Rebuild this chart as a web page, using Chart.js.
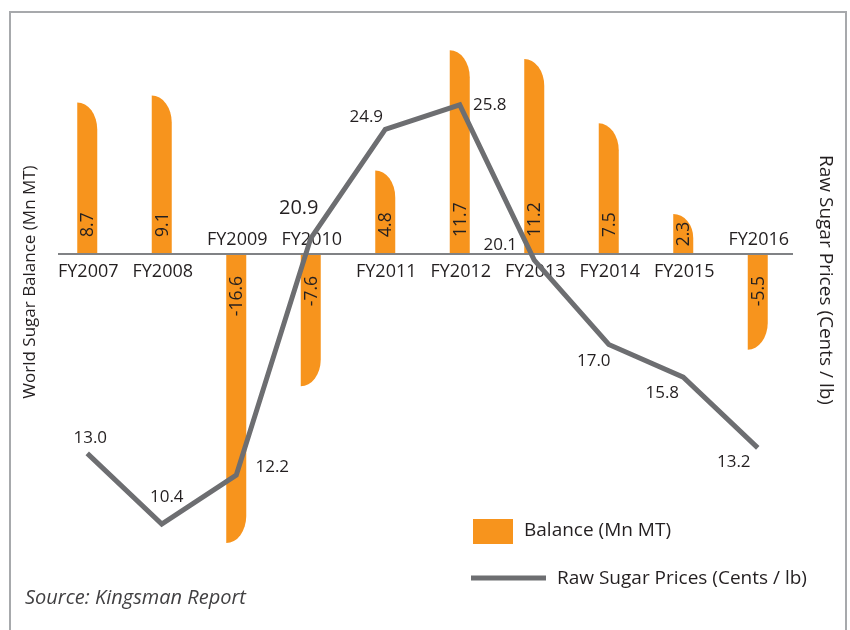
<!DOCTYPE html>
<html>
<head>
<meta charset="utf-8">
<script src="https://cdn.jsdelivr.net/npm/chart.js@4/dist/chart.umd.min.js"></script>
<style>
    html, body { margin: 0; padding: 0; background: #fff; overflow: hidden; }
    #wrap { position: relative; width: 850px; height: 630px; }
    #frame { position: absolute; left: 9px; top: 11px; width: 838px; height: 660px; border: 2px solid #a7a9ac; box-sizing: border-box; }
    #chart { position: absolute; left: 0; top: 0; }
</style>
</head>
<body>
<div id="wrap">
    <div id="frame"></div>
    <canvas id="chart" width="850" height="630"></canvas>
</div>
<script>
const categories = ['FY2007', 'FY2008', 'FY2009', 'FY2010', 'FY2011', 'FY2012', 'FY2013', 'FY2014', 'FY2015', 'FY2016']
const balance = [8.7, 9.1, -16.6, -7.6, 4.8, 11.7, 11.2, 7.5, 2.3, -5.5]
const prices = [13.0, 10.4, 12.2, 20.9, 24.9, 25.8, 20.1, 17.0, 15.8, 13.2]

const balanceName = 'Balance (Mn MT)'
const priceName = 'Raw Sugar Prices (Cents / lb)'
const leftTitle = 'World Sugar Balance (Mn MT)'
const rightTitle = 'Raw Sugar Prices (Cents / lb)'
const sourceNote = 'Source: Kingsman Report'

// where each price label sits, relative to its point
const priceLabelOffset = [[3, -15], [5, -27], [36, -8], [-12, -30], [-19, -12], [30, 0], [-34, -15], [-15, 17], [-21, 16], [-24, 14]]

const FONT = '"Open Sans", sans-serif'
const ORANGE = '#f7941d'
const GREY = '#6d6e71'
const INK = '#231f20'

function drawBarLabels(chart, meta) {
    const { ctx, chartArea, scales } = chart
    const zero = scales.y.getPixelForValue(0)
    ctx.save()
    ctx.strokeStyle = '#808285'
    ctx.lineWidth = 2
    ctx.beginPath()
    ctx.moveTo(chartArea.left + 8, zero)
    ctx.lineTo(chartArea.right - 2, zero)
    ctx.stroke()

    ctx.fillStyle = INK
    ctx.font = `18px ${FONT}`
    ctx.textAlign = 'center'
    ctx.textBaseline = 'middle'
    categories.forEach((c, i) => {
        const x = scales.x.getPixelForValue(i)
        ctx.fillText(c, x + 1, balance[i] >= 0 ? zero + 18 : zero - 14)
    })

    // values run upward inside the bars, close to the zero line
    ctx.font = `17.5px ${FONT}`
    meta.data.forEach((bar, i) => {
        const txt = balance[i].toFixed(1)
        const w = ctx.measureText(txt).width
        const h = Math.abs(bar.base - bar.y)
        ctx.save()
        if (balance[i] >= 0) {
            ctx.translate(bar.x + 1, zero - Math.min(17, (h - w) / 2))
            ctx.textAlign = 'left'
        } else {
            ctx.translate(bar.x + 1, zero + 22)
            ctx.textAlign = 'right'
        }
        ctx.rotate(-Math.PI / 2)
        ctx.fillText(txt, 0, 0)
        ctx.restore()
    })
    ctx.restore()
}

const sugarPlugin = {
    id: 'sugar',
    // bars: square on the left, a long curve on the right at the far end
    beforeDatasetDraw(chart, args) {
        if (args.index !== 0) return
        const ctx = chart.ctx
        ctx.save()
        ctx.fillStyle = ORANGE
        args.meta.data.forEach(bar => {
            const { x, y, base, width } = bar.getProps(['x', 'y', 'base', 'width'], true)
            const left = x - width / 2
            const ry = Math.min(27, Math.abs(base - y) * 0.6)
            ctx.beginPath()
            ctx.moveTo(left, base)
            ctx.lineTo(left, y)
            if (y <= base) {
                ctx.ellipse(left, y + ry, width, ry, 0, -Math.PI / 2, 0)
            } else {
                ctx.ellipse(left, y - ry, width, ry, 0, Math.PI / 2, 0, true)
            }
            ctx.lineTo(left + width, base)
            ctx.closePath()
            ctx.fill()
        })
        ctx.restore()
        drawBarLabels(chart, args.meta)
        return false
    },
    afterDatasetsDraw(chart) {
        const { ctx, scales } = chart
        ctx.save()
        ctx.fillStyle = INK
        ctx.textAlign = 'center'
        ctx.textBaseline = 'middle'
        prices.forEach((p, i) => {
            const x = scales.x.getPixelForValue(i)
            const y = scales.y2.getPixelForValue(p)
            ctx.font = i === 3 ? `20px ${FONT}` : `17px ${FONT}`
            ctx.fillText(p.toFixed(1), x + priceLabelOffset[i][0], y + priceLabelOffset[i][1])
        })

        // legend
        ctx.font = `19px ${FONT}`
        ctx.textAlign = 'left'
        ctx.fillStyle = ORANGE
        ctx.fillRect(473, 519, 40, 25)
        ctx.strokeStyle = GREY
        ctx.lineWidth = 5
        ctx.beginPath()
        ctx.moveTo(471, 578)
        ctx.lineTo(546, 578)
        ctx.stroke()
        ctx.fillStyle = INK
        ctx.fillText(balanceName, 524, 531)
        ctx.fillText(priceName, 557, 579)

        // axis titles
        ctx.textAlign = 'center'
        ctx.save()
        ctx.font = `17px ${FONT}`
        ctx.translate(30, 282)
        ctx.rotate(-Math.PI / 2)
        ctx.fillText(leftTitle, 0, 0)
        ctx.restore()
        ctx.save()
        ctx.font = `19px ${FONT}`
        ctx.translate(825, 280)
        ctx.rotate(Math.PI / 2)
        ctx.fillText(rightTitle, 0, 0)
        ctx.restore()

        ctx.textAlign = 'left'
        ctx.fillStyle = '#414042'
        ctx.font = `italic 20px ${FONT}`
        ctx.fillText(sourceNote, 25, 598)
        ctx.restore()
    }
}

new Chart(document.getElementById('chart'), {
    data: {
        labels: categories,
        datasets: [{
            type: 'bar',
            label: balanceName,
            data: balance,
            backgroundColor: ORANGE,
            barThickness: 20,
            yAxisID: 'y',
            order: 1
        }, {
            type: 'line',
            label: priceName,
            data: prices,
            borderColor: GREY,
            borderWidth: 5,
            borderJoinStyle: 'miter',
            pointRadius: 0,
            tension: 0,
            yAxisID: 'y2',
            order: 0
        }]
    },
    options: {
        responsive: false,
        animation: false,
        layout: { padding: { left: 50, right: 55, top: 45, bottom: 80 } },
        scales: {
            x: { display: false, offset: true },
            y: { display: false, min: -17, max: 12 },
            y2: { display: false, min: 9.45, max: 28 }
        },
        plugins: {
            legend: { display: false },
            tooltip: { enabled: false }
        }
    },
    plugins: [sugarPlugin]
})
</script>
</body>
</html>
